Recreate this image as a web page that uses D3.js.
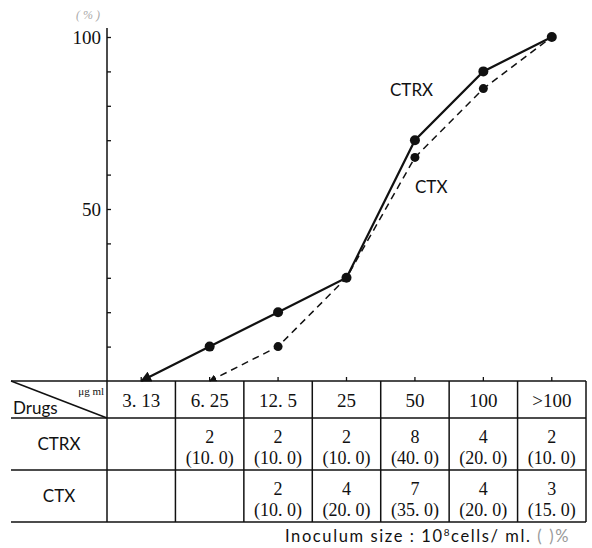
<!DOCTYPE html>
<html><head><meta charset="utf-8">
<script src="https://cdn.jsdelivr.net/npm/d3@7"></script>
<style>body{margin:0;background:#fff}</style>
</head><body>
<script>
const categories = ["3. 13", "6. 25", "12. 5", "25", "50", "100", ">100"];
const ctrxCum = [0, 10, 20, 30, 70, 90, 100];
const ctxCum = [null, 0, 10, 30, 65, 85, 100];
const ctrxN = ["", "2", "2", "2", "8", "4", "2"];
const ctrxPct = ["", "(10. 0)", "(10. 0)", "(10. 0)", "(40. 0)", "(20. 0)", "(10. 0)"];
const ctxN = ["", "", "2", "4", "7", "4", "3"];
const ctxPct = ["", "", "(10. 0)", "(20. 0)", "(35. 0)", "(20. 0)", "(15. 0)"];
const yTicks = [10, 20, 30, 40, 50, 60, 70, 80, 90, 100];
const yLabels = [50, 100];

const W = 592, H = 548;
const svg = d3.select("body").append("svg").attr("width", W).attr("height", H);
const serif = "'Liberation Serif', 'DejaVu Serif', serif";
const sans = "'Lato', 'Liberation Sans', sans-serif";

const x = d3.scaleBand().domain(categories).range([107, 586]).padding(0);
const cx = c => x(c) + x.bandwidth() / 2;
const y = d3.scaleLinear().domain([0, 100]).range([381, 37]);

// y axis
const yAxis = d3.axisLeft(y).tickValues(yTicks).tickSizeInner(-4).tickSizeOuter(0)
  .tickPadding(10).tickFormat(d => yLabels.includes(d) ? d : "");
const ag = svg.append("g").attr("transform", "translate(107,0)").call(yAxis);
ag.select(".domain").remove();
ag.selectAll("line").attr("stroke", "#111").attr("stroke-width", 1.3);
ag.selectAll("text").attr("font-family", serif).attr("font-size", 19).attr("fill", "#111").attr("dx", 4);
svg.append("line").attr("x1", 107).attr("x2", 107).attr("y1", 28).attr("y2", 522)
  .attr("stroke", "#111").attr("stroke-width", 1.5);
svg.append("text").attr("x", 88).attr("y", 19).attr("text-anchor", "middle")
  .attr("font-family", serif).attr("font-style", "italic").attr("font-size", 12).attr("fill", "#aaa").text("( % )");

// markers
const defs = svg.append("defs");
defs.append("marker").attr("id", "arr").attr("viewBox", "0 0 10 10").attr("refX", 9).attr("refY", 5)
  .attr("markerWidth", 5).attr("markerHeight", 5).attr("orient", "auto-start-reverse")
  .append("path").attr("d", "M0,0L10,5L0,10z").attr("fill", "#111");

// lines
const ctrxPts = categories.map((c, i) => [cx(c), y(ctrxCum[i])]);
const ctxPts = categories.map((c, i) => ctxCum[i] == null ? null : [cx(c), y(ctxCum[i])]).filter(p => p);
const line = d3.line();
svg.append("path").attr("d", line(ctrxPts)).attr("fill", "none").attr("stroke", "#111")
  .attr("stroke-width", 2.2).attr("marker-start", "url(#arr)");
svg.append("path").attr("d", line(ctxPts)).attr("fill", "none").attr("stroke", "#111")
  .attr("stroke-width", 1.5).attr("stroke-dasharray", "7,5").attr("marker-start", "url(#arr)");

svg.selectAll(".d1").data(categories.map((c, i) => ({ c, v: ctrxCum[i] })).filter(d => d.v > 0))
  .join("circle").attr("cx", d => cx(d.c)).attr("cy", d => y(d.v)).attr("r", 5).attr("fill", "#111");
svg.selectAll(".d2").data(categories.map((c, i) => ({ c, v: ctxCum[i] })).filter(d => d.v > 0 && d.v < 100 && d.v !== 30))
  .join("circle").attr("cx", d => cx(d.c)).attr("cy", d => y(d.v)).attr("r", 4.5).attr("fill", "#111");

svg.append("text").attr("x", 390).attr("y", 96).attr("font-family", sans).attr("font-size", 17)
  .attr("fill", "#111").text("CTRX");
svg.append("text").attr("x", 415).attr("y", 193).attr("font-family", sans).attr("font-size", 17)
  .attr("fill", "#111").text("CTX");

// table
const tTop = 381, hBot = 418, r1Bot = 470, r2Bot = 522, tLeft = 11, tRight = 586;
const tg = svg.append("g").attr("stroke", "#111");
[tTop, hBot, r1Bot, r2Bot].forEach(v => tg.append("line").attr("x1", tLeft).attr("x2", tRight)
  .attr("y1", v).attr("y2", v).attr("stroke-width", 1.6));
categories.forEach(c => {
  tg.append("line").attr("x1", x(c) + x.bandwidth()).attr("x2", x(c) + x.bandwidth())
    .attr("y1", tTop).attr("y2", r2Bot).attr("stroke-width", 1.5);
  tg.append("line").attr("x1", cx(c)).attr("x2", cx(c)).attr("y1", tTop).attr("y2", tTop - 4).attr("stroke-width", 1.3);
});
tg.append("line").attr("x1", tLeft).attr("y1", tTop).attr("x2", 107).attr("y2", hBot).attr("stroke-width", 1.5);

const txt = (xx, yy, s, size, fam, anchor) => svg.append("text").attr("x", xx).attr("y", yy)
  .attr("text-anchor", anchor || "middle").attr("font-family", fam || serif).attr("font-size", size || 15)
  .attr("fill", "#111").text(s);

categories.forEach((c, i) => {
  txt(cx(c), 407, c, 19);
  txt(cx(c), 443, ctrxN[i], 18);
  txt(cx(c), 464, ctrxPct[i], 18);
  txt(cx(c), 495, ctxN[i], 18);
  txt(cx(c), 516, ctxPct[i], 18);
});
txt(13, 414, "Drugs", 17, sans, "start");
txt(104, 395, "μg  ml", 11, serif, "end");
txt(59, 450, "CTRX", 17, sans);
txt(59, 502, "CTX", 17, sans);

const ft = svg.append("text").attr("x", 570).attr("y", 542).attr("text-anchor", "end")
  .attr("font-family", sans).attr("font-size", 16.5).attr("letter-spacing", 1.6).attr("fill", "#111");
ft.append("tspan").text("Inoculum  size : 10");
ft.append("tspan").attr("dy", -6).attr("font-size", 10).text("8");
ft.append("tspan").attr("dy", 6).text("cells/ ml. ");
ft.append("tspan").attr("fill", "#999").text("(   )%");
</script>
</body></html>
